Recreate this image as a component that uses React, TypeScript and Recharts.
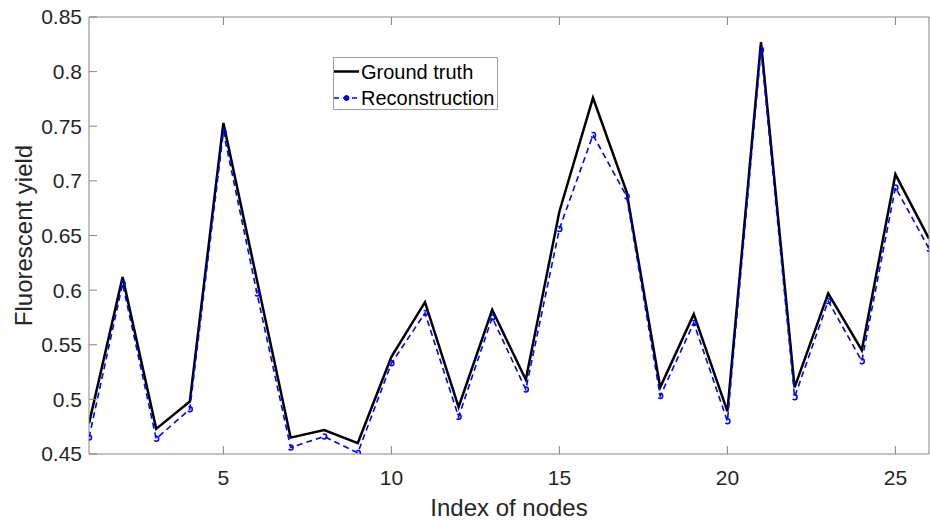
import React from "react";
import {
  LineChart,
  Line,
  XAxis,
  YAxis,
  Legend,
  Label,
} from "recharts";

const nodes = [1, 2, 3, 4, 5, 6, 7, 8, 9, 10, 11, 12, 13, 14, 15, 16, 17, 18, 19, 20, 21, 22, 23, 24, 25, 26];
const groundTruth = [
  0.478, 0.612, 0.473, 0.498, 0.753, 0.609, 0.465, 0.472, 0.46, 0.539, 0.589, 0.493, 0.582,
  0.518, 0.672, 0.776, 0.69, 0.511, 0.578, 0.489, 0.827, 0.511, 0.597, 0.545, 0.706, 0.647,
];
const reconstruction = [
  0.465, 0.606, 0.464, 0.491, 0.745, 0.597, 0.456, 0.466, 0.451, 0.533, 0.579, 0.484, 0.575,
  0.509, 0.656, 0.742, 0.686, 0.503, 0.57, 0.48, 0.82, 0.502, 0.59, 0.535, 0.694, 0.638,
];
const xTicks = [5, 10, 15, 20, 25];
const yTicks = [0.45, 0.5, 0.55, 0.6, 0.65, 0.7, 0.75, 0.8, 0.85];

const data = nodes.map((n, i) => ({
  node: n,
  truth: groundTruth[i],
  recon: reconstruction[i],
}));

const FONT = "'Liberation Sans', Arial, Helvetica, sans-serif";
const AXIS = "#858585";
const TEXT = "#262626";
const BLUE = "#0000ff";

const renderLegend = (props: any) => {
  const items = props.payload || [];
  return (
    <svg width={165} height={53} style={{ display: "block" }}>
      <rect x={0.5} y={0.5} width={164} height={52} fill="#fff" stroke="#a0a0a0" />
      {items.map((item: any, i: number) => {
        const cy = 14.5 + i * 26.5;
        const isRecon = item.dataKey === "recon";
        return (
          <g key={item.value}>
            <line
              x1={1}
              x2={26}
              y1={cy}
              y2={cy}
              stroke={isRecon ? BLUE : "#000"}
              strokeWidth={isRecon ? 1.5 : 2.5}
              strokeDasharray={isRecon ? "5 4" : undefined}
            />
            {isRecon && <circle cx={13.5} cy={cy} r={2.5} fill={BLUE} stroke={BLUE} />}
            <text x={28} y={cy + 7} fontSize={20} fill="#000" fontFamily={FONT}>
              {item.value}
            </text>
          </g>
        );
      })}
    </svg>
  );
};

export default function App() {
  return (
    <div
      style={{
        position: "absolute",
        left: 0,
        top: 0,
        width: 930,
        height: 525,
        overflow: "hidden",
        background: "#fff",
      }}
    >
      <LineChart
        width={940}
        height={525}
        data={data}
        margin={{ top: 6, right: 0, bottom: 0, left: 0 }}
        style={{ fontFamily: FONT }}
      >
        <XAxis
          dataKey="node"
          type="number"
          domain={[1, 26]}
          ticks={xTicks}
          allowDataOverflow
          height={71}
          stroke={AXIS}
          tickSize={-8}
          tickMargin={24}
          tick={{ fill: TEXT, fontSize: 21 }}
        >
          <Label
            value="Index of nodes"
            position="insideBottom"
            offset={9}
            style={{ fontSize: 24, fill: TEXT }}
          />
        </XAxis>
        {/* top + right axes only close the box and mirror the ticks */}
        <XAxis
          xAxisId="top"
          dataKey="node"
          type="number"
          orientation="top"
          domain={[1, 26]}
          ticks={xTicks}
          height={11}
          stroke={AXIS}
          tickSize={-8}
          tickFormatter={() => ""}
        />
        <YAxis
          type="number"
          domain={[0.45, 0.85]}
          ticks={yTicks}
          allowDataOverflow
          width={89}
          stroke={AXIS}
          tickSize={-8}
          tickMargin={15}
          tick={{ fill: TEXT, fontSize: 21 }}
        >
          <Label
            value="Fluorescent yield"
            angle={-90}
            position="insideLeft"
            offset={23}
            style={{ fontSize: 24, fill: TEXT, textAnchor: "middle" }}
          />
        </YAxis>
        <YAxis
          yAxisId="right"
          type="number"
          orientation="right"
          domain={[0.45, 0.85]}
          ticks={yTicks}
          width={11}
          stroke={AXIS}
          tickSize={-8}
          tickFormatter={() => ""}
        />
        <Legend
          layout="horizontal"
          verticalAlign="middle"
          align="center"
          content={renderLegend}
          wrapperStyle={{ left: 333, top: 57, width: 165, height: 53 }}
        />
        <Line
          name="Ground truth"
          dataKey="truth"
          type="linear"
          stroke="#000"
          strokeWidth={2.5}
          dot={false}
          isAnimationActive={false}
        />
        <Line
          name="Reconstruction"
          dataKey="recon"
          type="linear"
          stroke={BLUE}
          strokeWidth={1.6}
          strokeDasharray="6 4"
          dot={{ r: 2.5, stroke: BLUE, strokeWidth: 1.5, fill: "none" }}
          isAnimationActive={false}
        />
      </LineChart>
    </div>
  );
}
